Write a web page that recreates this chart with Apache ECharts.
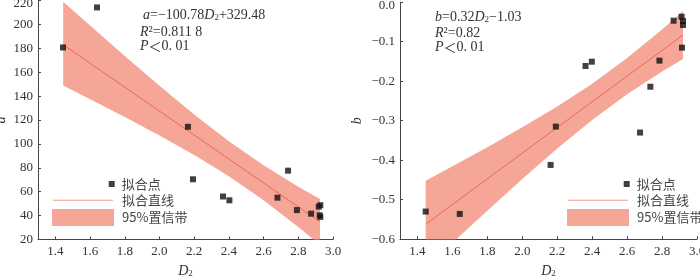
<!DOCTYPE html>
<html><head><meta charset="utf-8">
<script src="https://cdn.jsdelivr.net/npm/echarts@6/dist/echarts.min.js"></script>
<style>html,body{margin:0;padding:0;background:#fff}#c{width:700px;height:276px}</style>
</head><body><div id="c"></div>
<script>
// ---- data ----
const D2_A = [1.444, 1.640, 2.164, 2.193, 2.366, 2.403, 2.680, 2.741, 2.792, 2.874, 2.918, 2.927, 2.923, 2.927];
const A_VAL = [180.7, 214.2, 114.3, 70.4, 56.0, 52.8, 55.0, 77.6, 44.6, 41.6, 47.5, 48.7, 40.3, 38.9];
const D2_B = [1.447, 1.642, 2.162, 2.192, 2.362, 2.398, 2.674, 2.733, 2.785, 2.866, 2.912, 2.920, 2.920, 2.914];
const B_VAL = [-0.530, -0.536, -0.412, -0.315, -0.1615, -0.1506, -0.330, -0.214, -0.148, -0.0468, -0.0367, -0.0476, -0.0577, -0.115];

const FIT_A_X = [1.445, 2.925];
const FIT_A_Y = [183.0, 34.8];
const FIT_B_X = [1.447, 2.920];
const FIT_B_Y = [-0.562, -0.083];

const BAND_A_X  = [1.445, 1.6, 1.8, 2.0, 2.2, 2.4, 2.6, 2.8, 2.925];
const BAND_A_UP = [218.9, 199.0, 173.6, 148.7, 124.7, 102.2, 82.1, 64.2, 53.9];
const BAND_A_LO = [148.9, 137.4, 122.5, 107.1, 90.8, 73.0, 52.8, 30.4, 15.5];

const BAND_B_X  = [1.447, 1.6, 1.8, 2.0, 2.2, 2.4, 2.6, 2.8, 2.920];
const BAND_B_UP = [-0.452, -0.4155, -0.3669, -0.3168, -0.2640, -0.2063, -0.1413, -0.0690, -0.0228];
const BAND_B_LO = [-0.672, -0.6091, -0.5277, -0.4478, -0.3706, -0.2983, -0.2333, -0.1756, -0.1438];

const X_TICKS = [1.4, 1.6, 1.8, 2.0, 2.2, 2.4, 2.6, 2.8, 3.0];
const LEG_POINT = '拟合点', LEG_LINE = '拟合直线', LEG_BAND = '95%置信带';

// ---- styles ----
const SERIF = 'Liberation Serif';
const CJK = 'Noto Sans CJK SC';
const TXT = '#333';
const AXIS_C = '#444';
const BAND_C = '#F5A696';
const LINE_C = '#EC6A52';
const LEG_LINE_C = '#F3A08D';

const zip = (xs, ys) => xs.map((x, i) => [x, ys[i]]);

function xAxisCfg(gi) {
  return {
    type: 'value', gridIndex: gi, min: 1.3, max: 3.0,
    name: '{i|D}{s|2}', nameLocation: 'middle', nameGap: 23,
    nameTextStyle: { rich: {
      i: { fontFamily: SERIF, fontStyle: 'italic', fontSize: 14, color: TXT, verticalAlign: 'bottom', lineHeight: 16 },
      s: { fontFamily: SERIF, fontSize: 9, color: TXT, verticalAlign: 'bottom', lineHeight: 12 } } },
    axisLine: { show: true, onZero: false, lineStyle: { color: AXIS_C, width: 1 } },
    axisTick: { show: true, inside: true, length: 3, customValues: X_TICKS, lineStyle: { color: AXIS_C } },
    axisLabel: { customValues: X_TICKS, margin: 6, fontFamily: SERIF, fontSize: 13, color: TXT,
      formatter: v => v.toFixed(1) },
    splitLine: { show: false }
  };
}
function yAxisCfg(gi, min, max, interval, name, fmt, gap) {
  return {
    type: 'value', gridIndex: gi, min, max, interval,
    name, nameLocation: 'middle', nameGap: gap, nameRotate: 90,
    nameTextStyle: { fontFamily: SERIF, fontStyle: 'italic', fontSize: 14, color: TXT },
    axisLine: { show: true, onZero: false, lineStyle: { color: AXIS_C, width: 1 } },
    axisTick: { show: true, inside: true, length: 3, lineStyle: { color: AXIS_C } },
    axisLabel: { margin: 5, fontFamily: SERIF, fontSize: 13, color: TXT, showMaxLabel: true, showMinLabel: true,
      formatter: v => (Math.abs(v - max) < 1e-9 ? '{t|' + fmt(v) + '}' : fmt(v)),
      rich: { t: { fontFamily: SERIF, fontSize: 13, color: TXT, padding: [7, 0, 0, 0] } } },
    splitLine: { show: false }
  };
}
function bandSeries(gi, bx, bu, bl) {
  const rows = bx.map((x, i) => [x, bl[i], bu[i]]);
  return {
    type: 'custom', name: LEG_BAND, xAxisIndex: gi, yAxisIndex: gi, silent: true, z: 1,
    itemStyle: { color: BAND_C },
    data: rows,
    encode: { x: 0, y: [1, 2] },
    renderItem: function (params, api) {
      if (params.dataIndex !== 0) return;
      const pts = [];
      rows.forEach(r => pts.push(api.coord([r[0], r[2]])));
      for (let i = rows.length - 1; i >= 0; i--) pts.push(api.coord([rows[i][0], rows[i][1]]));
      const cs = params.coordSys;
      return {
        type: 'polygon',
        shape: { points: pts },
        style: { fill: BAND_C, stroke: null },
        clipPath: { type: 'rect', shape: { x: cs.x, y: cs.y, width: cs.width, height: cs.height } }
      };
    }
  };
}
function seriesFor(gi, px, py, fx, fy, bx, bu, bl) {
  return [
    bandSeries(gi, bx, bu, bl),
    { type: 'line', name: LEG_LINE, xAxisIndex: gi, yAxisIndex: gi, data: zip(fx, fy),
      symbol: 'none', showSymbol: false, itemStyle: { color: LINE_C }, lineStyle: { color: LINE_C, width: 1 }, z: 2 },
    { type: 'scatter', name: LEG_POINT, xAxisIndex: gi, yAxisIndex: gi, data: zip(px, py),
      symbol: 'rect', symbolSize: 6, itemStyle: { color: '#111' }, z: 3 }
  ];
}
function legendsAt(dx) {
  const ts = { fontFamily: CJK, fontSize: 13, color: '#444', lineHeight: 14 };
  return [
    { data: [{ name: LEG_POINT, icon: 'rect' }], left: 108.7 + dx, top: 177, padding: 0,
      itemWidth: 6, itemHeight: 6, selectedMode: false, textStyle: Object.assign({ padding: [0, 0, 0, 2] }, ts) },
    { data: [{ name: LEG_LINE, icon: 'rect', itemStyle: { color: LEG_LINE_C, borderWidth: 0 } }], left: 53 + dx, top: 193.3, padding: 0,
      itemWidth: 60, itemHeight: 1, selectedMode: false,
      textStyle: Object.assign({ padding: [0, 0, 0, 4] }, ts) },
    { data: [{ name: LEG_BAND, icon: 'rect', itemStyle: { color: BAND_C, borderWidth: 0 } }], left: 52 + dx, top: 209, padding: 0,
      itemWidth: 62, itemHeight: 17, selectedMode: false, textStyle: Object.assign({ padding: [0, 0, 0, 3] }, ts) }
  ];
}
const RICH = {
  i: { fontFamily: SERIF, fontStyle: 'italic', fontSize: 14, fill: TXT, verticalAlign: 'bottom', lineHeight: 16 },
  n: { fontFamily: SERIF, fontSize: 14, fill: TXT, verticalAlign: 'bottom', lineHeight: 16 },
  c: { fontFamily: CJK, fontSize: 13, fill: TXT, verticalAlign: 'bottom', lineHeight: 16 },
  s: { fontFamily: SERIF, fontSize: 9, fill: TXT, verticalAlign: 'bottom', lineHeight: 13 }
};
function note(left, top, text) {
  return { type: 'text', left, top, silent: true, style: { text, rich: RICH } };
}

const chart = echarts.init(document.getElementById('c'), null, { renderer: 'canvas' });
chart.setOption({
  animation: false,
  backgroundColor: '#fff',
  grid: [
    { left: 38, top: 0.5, width: 295, height: 239, outerBoundsMode: 'none', containLabel: false },
    { left: 400, top: 2.2, width: 297, height: 237, outerBoundsMode: 'none', containLabel: false }
  ],
  xAxis: [xAxisCfg(0), xAxisCfg(1)],
  yAxis: [
    yAxisCfg(0, 20, 220, 20, 'a', v => String(v), 30),
    yAxisCfg(1, -0.6, 0, 0.1, 'b', v => (v < -1e-9 ? '−' : '') + Math.abs(v).toFixed(1), 36)
  ],
  legend: legendsAt(0).concat(legendsAt(515)),
  series: seriesFor(0, D2_A, A_VAL, FIT_A_X, FIT_A_Y, BAND_A_X, BAND_A_UP, BAND_A_LO)
    .concat(seriesFor(1, D2_B, B_VAL, FIT_B_X, FIT_B_Y, BAND_B_X, BAND_B_UP, BAND_B_LO)),
  graphic: [
    note(143, 8, '{i|a}{n|=−100.78}{i|D}{s|2}{n|+329.48}'),
    note(140, 25, '{i|R}{n|²=0.811 8}'),
    note(140, 39, '{i|P}{c|＜}{n|0. 01}'),
    note(435, 10, '{i|b}{n|=0.32}{i|D}{s|2}{n|−1.03}'),
    note(435, 26, '{i|R}{n|²=0.82}'),
    note(435, 40, '{i|P}{c|＜}{n|0. 01}')
  ]
});
</script></body></html>
